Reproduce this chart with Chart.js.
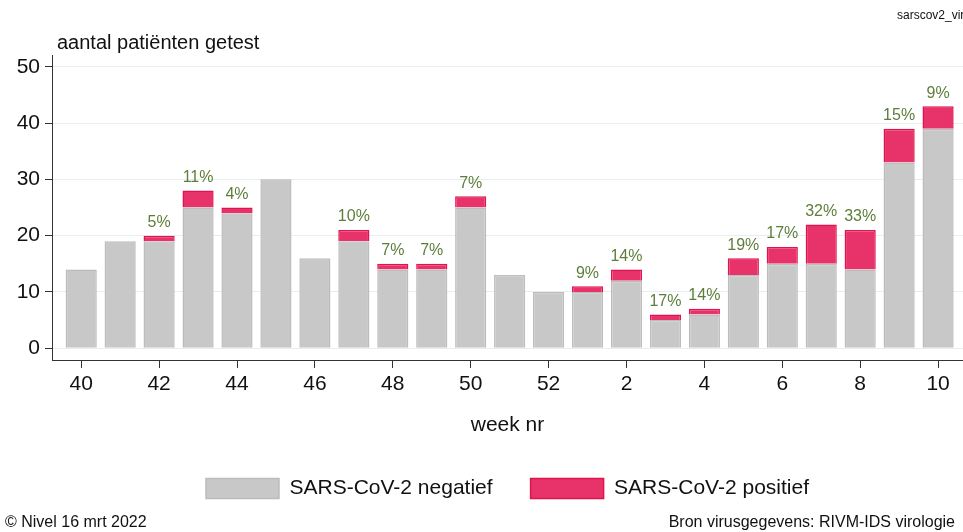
<!DOCTYPE html>
<html>
<head>
<meta charset="utf-8">
<script src="https://cdn.jsdelivr.net/npm/chart.js@4"></script>
<style>
  html, body { margin: 0; padding: 0; background: #fff; overflow: hidden; }
  body { width: 963px; height: 532px; position: relative; font-family: "Liberation Sans", Arial, sans-serif; color: #111; }
  #wrap { position: absolute; left: 0; top: 0; width: 963px; height: 532px; }
  .txt { position: absolute; white-space: nowrap; line-height: 1; }
</style>
</head>
<body>
<div id="wrap"><canvas id="chart"></canvas></div>
<div class="txt" style="left:57px; top:32px; font-size:20px;">aantal patiënten getest</div>
<div class="txt" style="left:897px; top:9px; font-size:12px;">sarscov2_virologie</div>
<div class="txt" style="left:5px; top:514px; font-size:16px;">© Nivel 16 mrt 2022</div>
<div class="txt" style="right:8px; top:514px; font-size:16px;">Bron virusgegevens: RIVM-IDS virologie</div>
<script>
/* data ----------------------------------------------------------------------- */
const weeks = [40, 41, 42, 43, 44, 45, 46, 47, 48, 49, 50, 51, 52, 1, 2, 3, 4, 5, 6, 7, 8, 9, 10];
const negatief = [14, 19, 19, 25, 24, 30, 16, 19, 14, 14, 25, 13, 10, 10, 12, 5, 6, 13, 15, 15, 14, 33, 39];
const positief = [0, 0, 1, 3, 1, 0, 0, 2, 1, 1, 2, 0, 0, 1, 2, 1, 1, 3, 3, 7, 7, 6, 4];
const pctLabels = ['', '', '5%', '11%', '4%', '', '', '10%', '7%', '7%', '7%', '', '', '9%', '14%', '17%', '14%', '19%', '17%', '32%', '33%', '15%', '9%'];
const yTicks = [0, 10, 20, 30, 40, 50];

const FONT = '"Liberation Sans", Arial, sans-serif';

// percentage labels above the stacked bars
const pctPlugin = {
  id: 'pctLabels',
  afterDatasetsDraw(chart) {
    const { ctx } = chart;
    const meta = chart.getDatasetMeta(1);
    ctx.save();
    ctx.font = '16px ' + FONT;
    ctx.fillStyle = '#5e7d3a';
    ctx.textAlign = 'center';
    ctx.textBaseline = 'bottom';
    meta.data.forEach((bar, i) => {
      if (!pctLabels[i]) return;
      ctx.fillText(pctLabels[i], bar.x, bar.y - 5);
    });
    ctx.restore();
  }
};

new Chart(document.getElementById('chart'), {
  type: 'bar',
  data: {
    datasets: [
      {
        label: 'SARS-CoV-2 negatief',
        data: weeks.map((w, i) => ({ x: i, y: negatief[i] })),
        backgroundColor: '#c8c8c8',
        borderColor: '#bcbcbc',
        borderWidth: 1.5,
        barPercentage: 0.8,
        categoryPercentage: 1,
      },
      {
        label: 'SARS-CoV-2 positief',
        data: weeks.map((w, i) => ({ x: i, y: positief[i] })),
        backgroundColor: '#e8336a',
        borderColor: '#e0134f',
        borderWidth: 1.5,
        barPercentage: 0.8,
        categoryPercentage: 1,
      },
    ],
  },
  options: {
    responsive: true,
    maintainAspectRatio: false,
    animation: false,
    layout: { padding: { top: 55, left: 0, right: 0, bottom: 23 } },
    plugins: {
      legend: {
        position: 'bottom',
        fullSize: false,
        labels: {
          font: { size: 21, family: FONT },
          color: '#111',
          boxWidth: 73,
          boxHeight: 20,
          padding: 38,
        },
      },
      tooltip: { enabled: false },
    },
    scales: {
      x: {
        type: 'linear',
        stacked: true,
        offset: false,
        min: -0.75,
        max: 22.64,
        afterFit: (scale) => { scale.height = 80; },
        afterBuildTicks: (scale) => {
          scale.ticks = weeks.map((w, i) => ({ value: i })).filter((t) => t.value % 2 === 0);
        },
        ticks: {
          font: { size: 21, family: FONT },
          color: '#111',
          padding: 4,
          callback: (v) => weeks[v],
        },
        grid: { offset: false, drawOnChartArea: false, tickLength: 8, tickColor: '#333' },
        border: { color: '#333', width: 1 },
        title: {
          display: true,
          text: 'week nr',
          font: { size: 21, family: FONT },
          color: '#111',
          padding: { top: 15, bottom: 2 },
        },
      },
      y: {
        stacked: true,
        min: -2.1,
        max: 52.1,
        afterFit: (scale) => { scale.width = 52; },
        afterBuildTicks: (scale) => {
          scale.ticks = yTicks.map((v) => ({ value: v }));
        },
        ticks: {
          font: { size: 21, family: FONT },
          color: '#111',
          padding: 5,
        },
        grid: { color: '#e7eef0', tickLength: 7, tickColor: '#333' },
        border: { color: '#333', width: 1 },
      },
    },
  },
  plugins: [pctPlugin],
});
</script>
</body>
</html>
